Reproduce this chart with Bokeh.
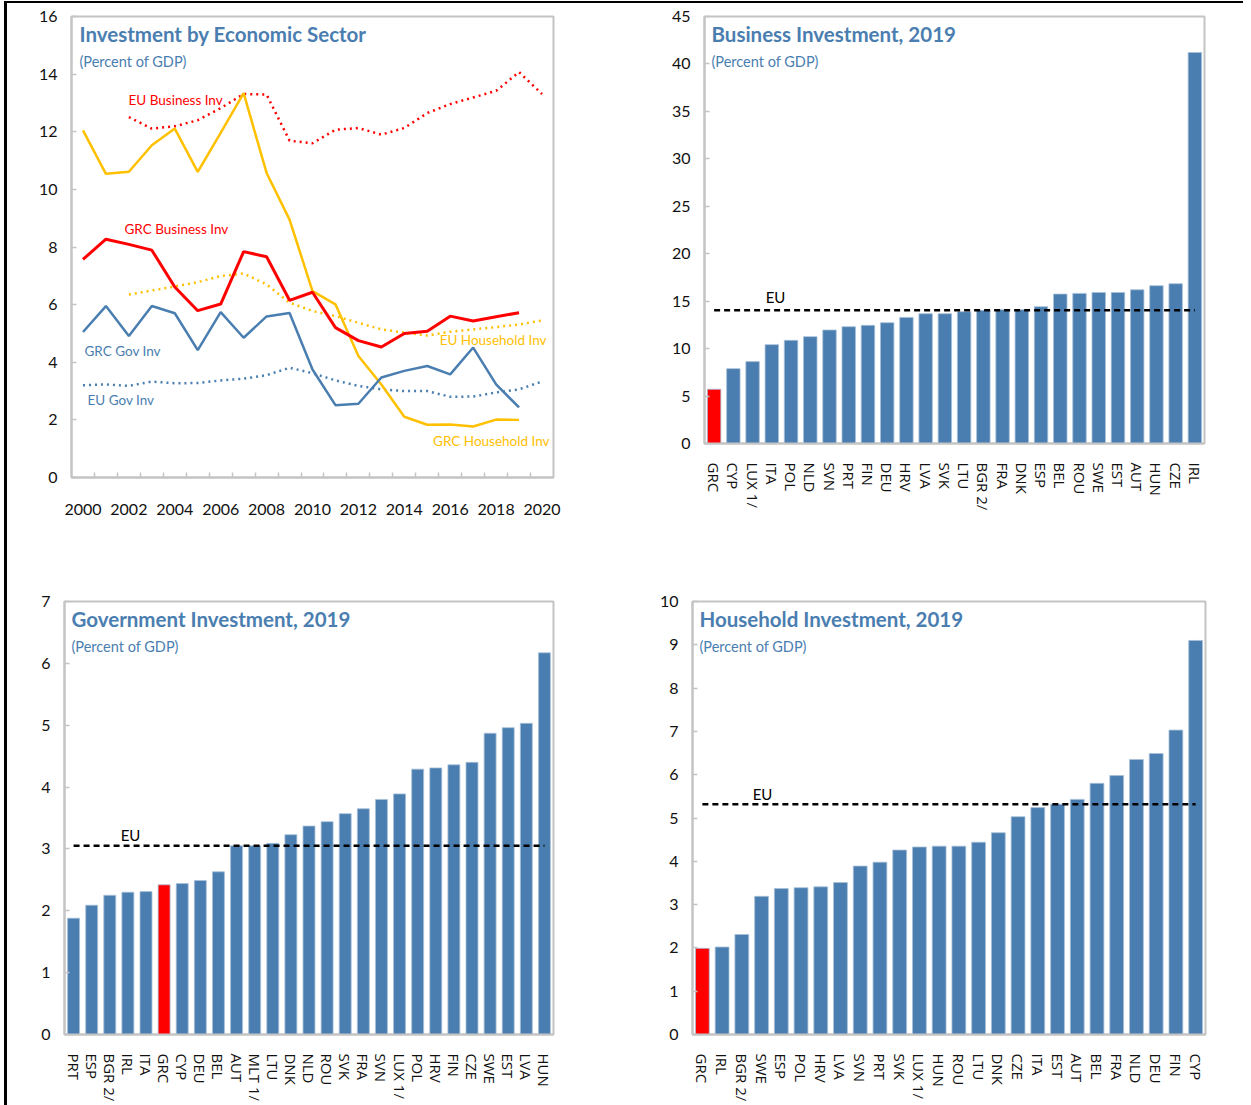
import numpy as np
from bokeh.plotting import figure
from bokeh.layouts import column, row
from bokeh.models import Label, FixedTicker, FactorRange, Range1d, ColumnDataSource
from bokeh.embed import file_html
from bokeh.resources import INLINE

# ---------------- data ----------------
years = list(range(2000, 2021))
grc_business = [7.57, 8.27, 8.09, 7.89, 6.61, 5.79, 6.02, 7.84, 7.66, 6.15, 6.43,
                5.20, 4.75, 4.53, 5.00, 5.08, 5.60, 5.43, 5.58, 5.72, None]
grc_household = [12.05, 10.54, 10.61, 11.53, 12.11, 10.61, 11.96, 13.34, 10.57, 8.95, 6.47,
                 6.01, 4.22, 3.23, 2.11, 1.83, 1.84, 1.77, 2.01, 2.00, None]
grc_gov = [5.05, 5.95, 4.91, 5.95, 5.70, 4.42, 5.74, 4.85, 5.59, 5.71, 3.75,
           2.51, 2.56, 3.47, 3.70, 3.87, 3.58, 4.51, 3.23, 2.43, None]
eu_business = [None, None, 12.51, 12.11, 12.19, 12.40, 12.82, 13.31, 13.29, 11.69, 11.60,
               12.07, 12.13, 11.90, 12.13, 12.65, 12.96, 13.19, 13.42, 14.07, 13.31]
eu_household = [None, None, 6.35, 6.49, 6.63, 6.78, 6.99, 7.08, 6.70, 6.07, 5.78,
                5.60, 5.37, 5.14, 5.03, 4.93, 5.06, 5.14, 5.22, 5.31, 5.45]
eu_gov = [3.20, 3.23, 3.18, 3.33, 3.27, 3.28, 3.37, 3.43, 3.55, 3.81, 3.62,
          3.37, 3.18, 3.06, 3.00, 3.00, 2.80, 2.81, 2.95, 3.06, 3.33]
year_ticks = [2000, 2002, 2004, 2006, 2008, 2010, 2012, 2014, 2016, 2018, 2020]

bus_countries = ["GRC", "CYP", "LUX 1/", "ITA", "POL", "NLD", "SVN", "PRT", "FIN", "DEU",
                 "HRV", "LVA", "SVK", "LTU", "BGR 2/", "FRA", "DNK", "ESP", "BEL", "ROU",
                 "SWE", "EST", "AUT", "HUN", "CZE", "IRL"]
bus_values = [5.72, 7.89, 8.63, 10.42, 10.87, 11.26, 11.96, 12.31, 12.45, 12.73,
              13.29, 13.68, 13.68, 13.89, 14.03, 14.10, 14.10, 14.42, 15.75, 15.82,
              15.92, 15.92, 16.20, 16.63, 16.84, 41.21]
bus_eu = 14.03

gov_countries = ["PRT", "ESP", "BGR 2/", "IRL", "ITA", "GRC", "CYP", "DEU", "BEL", "AUT",
                 "MLT 1/", "LTU", "DNK", "NLD", "ROU", "SVK", "FRA", "SVN", "LUX 1/", "POL",
                 "HRV", "FIN", "CZE", "SWE", "EST", "LVA", "HUN"]
gov_values = [1.88, 2.09, 2.25, 2.30, 2.31, 2.42, 2.44, 2.49, 2.63, 3.05,
              3.05, 3.09, 3.23, 3.37, 3.44, 3.57, 3.65, 3.80, 3.89, 4.29,
              4.31, 4.36, 4.40, 4.87, 4.96, 5.03, 6.17]
gov_eu = 3.05

hh_countries = ["GRC", "IRL", "BGR 2/", "SWE", "ESP", "POL", "HRV", "LVA", "SVN", "PRT",
                "SVK", "LUX 1/", "HUN", "ROU", "LTU", "DNK", "CZE", "ITA", "EST", "AUT",
                "BEL", "FRA", "NLD", "DEU", "FIN", "CYP"]
hh_values = [1.99, 2.02, 2.31, 3.19, 3.37, 3.39, 3.41, 3.51, 3.89, 3.98,
             4.26, 4.33, 4.35, 4.35, 4.44, 4.66, 5.03, 5.24, 5.32, 5.43,
             5.80, 5.98, 6.35, 6.49, 7.03, 9.10]
hh_eu = 5.32

# ---------------- style ----------------
BLUE = "#4a7eb0"
RED = "#ff0000"
GOLD = "#ffc000"
FRAME = "#c4c4c4"
NARROW = "Lato"
TITLE_FONT = "Lato"
CAT_FONT = "Open Sans"


def base_fig(fw, fh, bl, br, bt, bb, x_range, y_range):
    p = figure(frame_width=fw, frame_height=fh, x_range=x_range, y_range=y_range,
               min_border_left=bl, min_border_right=br, min_border_top=bt, min_border_bottom=bb,
               output_backend="svg", toolbar_location=None)
    p.xgrid.grid_line_color = None
    p.ygrid.grid_line_color = None
    p.outline_line_color = FRAME
    p.outline_line_width = 2
    p.outline_line_alpha = 1
    p.background_fill_color = "white"
    p.border_fill_color = "white"
    for ax in (p.xaxis[0], p.yaxis[0]):
        ax.axis_line_color = FRAME
        ax.axis_line_width = 2
        ax.major_label_text_color = "#111111"
    p.yaxis.major_tick_in = 5
    p.yaxis.major_tick_out = 0
    p.yaxis.major_tick_line_color = FRAME
    p.yaxis.major_tick_line_width = 1.5
    p.yaxis.minor_tick_line_color = None
    p.yaxis.major_label_text_font = NARROW
    p.yaxis.major_label_text_font_size = "16px"
    p.yaxis.major_label_standoff = 14
    return p


def add_titles(p, title, fh, x):
    p.add_layout(Label(x=x, y=fh - 17, x_units="screen", y_units="screen", text=title,
                       text_font=TITLE_FONT, text_font_style="bold", text_font_size="20.5px",
                       text_color=BLUE, text_baseline="middle"))
    p.add_layout(Label(x=x, y=fh - 45, x_units="screen", y_units="screen",
                       text="(Percent of GDP)", text_font=NARROW, text_font_size="14.5px",
                       text_color=BLUE, text_baseline="middle"))


# ---------------- panel 1: lines ----------------
fh1 = 461
p1 = base_fig(482, fh1, 64, 87, 13, 68, Range1d(1999.5, 2020.5), Range1d(0, 16))
p1.yaxis.ticker = FixedTicker(ticks=list(range(0, 17, 2)))
p1.xaxis.ticker = FixedTicker(ticks=year_ticks, minor_ticks=[y + 0.5 for y in years[:-1]])
p1.xaxis.major_tick_line_color = None
p1.xaxis.minor_tick_in = 5
p1.xaxis.minor_tick_out = 0
p1.xaxis.minor_tick_line_color = FRAME
p1.xaxis.minor_tick_line_width = 1.5
p1.xaxis.major_label_text_font = NARROW
p1.xaxis.major_label_text_font_size = "16px"
p1.xaxis.major_label_standoff = 20


def arr(v):
    return np.array([np.nan if a is None else a for a in v], dtype=float)


yrs = np.array(years, dtype=float)
p1.line(yrs, arr(eu_business), line_color=RED, line_width=2.5, line_dash="2 4")
p1.line(yrs, arr(eu_household), line_color=GOLD, line_width=2.5, line_dash="2 4")
p1.line(yrs, arr(eu_gov), line_color=BLUE, line_width=2.5, line_dash="2 4")
p1.line(yrs, arr(grc_household), line_color=GOLD, line_width=2.5)
p1.line(yrs, arr(grc_gov), line_color=BLUE, line_width=2.5)
p1.line(yrs, arr(grc_business), line_color=RED, line_width=3)

for txt, x, y, c, al in [("EU Business Inv", 57, 378, RED, "left"),
                         ("GRC Business Inv", 53, 249, RED, "left"),
                         ("GRC Gov Inv", 13, 127, BLUE, "left"),
                         ("EU Gov Inv", 16, 78, BLUE, "left"),
                         ("EU Household Inv", 475, 138, GOLD, "right"),
                         ("GRC Household Inv", 478, 37, GOLD, "right")]:
    p1.add_layout(Label(x=x, y=y, x_units="screen", y_units="screen", text=txt,
                        text_font=NARROW, text_font_size="13.5px", text_color=c,
                        text_align=al, text_baseline="middle"))
add_titles(p1, "Investment by Economic Sector", fh1, 8)


# ---------------- bar panels ----------------
def bar_panel(cats, vals, eu, ymax, step, title, fw, fh, bl, br, bt, bb, bw, eu_x, eu_off):
    colors = [RED if c == "GRC" else BLUE for c in cats]
    src = ColumnDataSource(dict(cat=cats, val=vals, color=colors))
    p = base_fig(fw, fh, bl, br, bt, bb, FactorRange(*cats, range_padding=0), Range1d(0, ymax))
    p.yaxis.ticker = FixedTicker(ticks=list(np.arange(0, ymax + 0.01, step)))
    p.vbar(x="cat", top="val", width=bw, fill_color="color", line_color="#a8c0d8",
           line_width=0.8, source=src)
    p.line(x=[cats[0], cats[-1]], y=[eu, eu], line_color="black", line_width=2.5,
           line_dash="6 4")
    p.add_layout(Label(x=eu_x, y=eu, x_units="screen", y_units="data", text="EU",
                       y_offset=eu_off, text_font=NARROW, text_font_size="15px",
                       text_color="black", text_align="center", text_baseline="middle"))
    p.xaxis.major_tick_line_color = None
    p.xaxis.minor_tick_line_color = None
    p.xaxis.major_label_orientation = "vertical"
    p.xaxis.major_label_text_font = CAT_FONT
    p.xaxis.major_label_text_font_size = "15px"
    p.xaxis.major_label_standoff = 13
    add_titles(p, title, fh, 7)
    return p


p2 = bar_panel(bus_countries, bus_values, bus_eu, 45, 5, "Business Investment, 2019",
               500, 427, 64, 30, 13, 102, 0.7, 71, 13)
p3 = bar_panel(gov_countries, gov_values, gov_eu, 7, 1, "Government Investment, 2019",
               489, 433, 57, 79, 56, 71, 0.66, 66, 10.5)
p4 = bar_panel(hh_countries, hh_values, hh_eu, 10, 1, "Household Investment, 2019",
               513, 433, 60, 30, 56, 71, 0.7, 70, 10.5)

layout = column(row(p1, p2), row(p3, p4),
                styles={"border-top": "2px solid black", "border-left": "3px solid black",
                        "margin-left": "4px", "margin-top": "1px", "padding-right": "8px"})
open("out.html", "w").write(file_html(layout, INLINE))
